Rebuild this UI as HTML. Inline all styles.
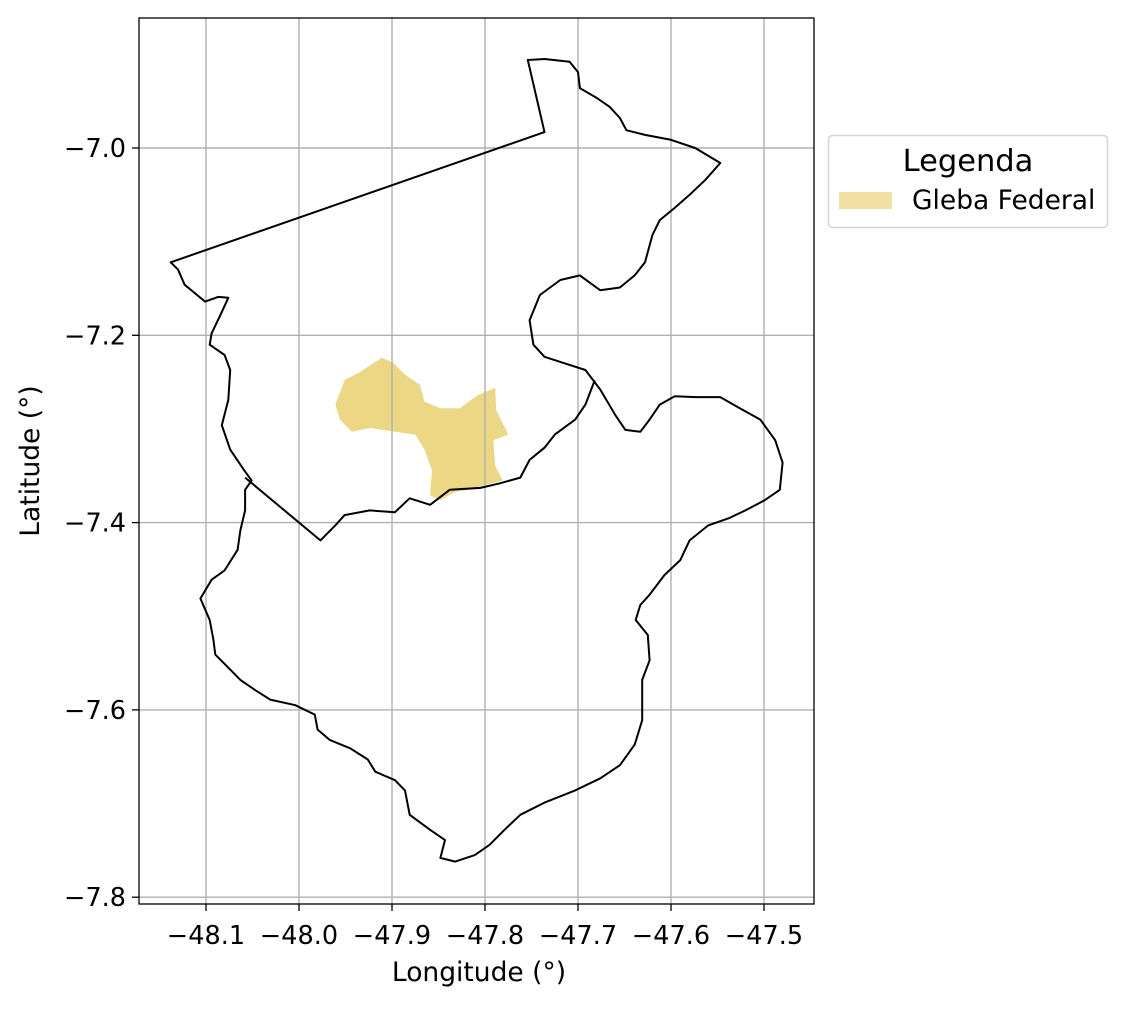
<!DOCTYPE html>
<html><head><meta charset="utf-8"><style>
body{margin:0;background:#fff}
svg text{font-family:"DejaVu Sans","Liberation Sans",sans-serif;fill:#000}
</style></head><body>
<svg width="1127" height="1006" viewBox="0 0 1127 1006" xmlns="http://www.w3.org/2000/svg">
<rect x="0" y="0" width="1127" height="1006" fill="#fff"/>
<g id="fills"></g>
<g id="grid"></g>
<g id="lines"></g>
<g id="axes"></g>
<g>
<rect x="828.5" y="135.5" width="279" height="92" rx="4" fill="#fff" stroke="#d5d5d5" stroke-width="1.5"/>
<text x="968" y="171" font-size="30.5" text-anchor="middle">Legenda</text>
<rect x="839" y="192" width="53" height="17" fill="#f1e0a1"/>
<text x="912" y="209" font-size="26.5">Gleba Federal</text>
</g>
</svg>
<script>
const xTicks=[-48.1,-48.0,-47.9,-47.8,-47.7,-47.6,-47.5];
const xTickLabels=["−48.1","−48.0","−47.9","−47.8","−47.7","−47.6","−47.5"];
const yTicks=[-7.0,-7.2,-7.4,-7.6,-7.8];
const yTickLabels=["−7.0","−7.2","−7.4","−7.6","−7.8"];
const outlineLon=[-48.138,-47.736,-47.754,-47.736,-47.709,-47.700,-47.698,-47.679,-47.666,-47.655,-47.648,-47.628,-47.601,-47.574,-47.547,-47.563,-47.580,-47.596,-47.612,-47.620,-47.628,-47.639,-47.655,-47.676,-47.698,-47.719,-47.741,-47.752,-47.748,-47.736,-47.714,-47.692,-47.676,-47.660,-47.649,-47.633,-47.623,-47.612,-47.596,-47.574,-47.547,-47.526,-47.504,-47.488,-47.480,-47.483,-47.499,-47.520,-47.537,-47.560,-47.580,-47.590,-47.607,-47.623,-47.633,-47.638,-47.625,-47.623,-47.631,-47.631,-47.639,-47.655,-47.676,-47.703,-47.736,-47.762,-47.779,-47.795,-47.811,-47.832,-47.848,-47.843,-47.859,-47.881,-47.886,-47.897,-47.918,-47.926,-47.945,-47.967,-47.980,-47.983,-48.004,-48.031,-48.047,-48.063,-48.074,-48.090,-48.092,-48.096,-48.106,-48.094,-48.080,-48.066,-48.063,-48.058,-48.058,-48.051,-48.059,-48.074,-48.083,-48.076,-48.074,-48.080,-48.096,-48.094,-48.083,-48.076,-48.087,-48.101,-48.123,-48.130];
const outlineLat=[-7.122,-6.983,-6.906,-6.905,-6.908,-6.919,-6.936,-6.947,-6.956,-6.968,-6.981,-6.986,-6.991,-7.000,-7.016,-7.034,-7.050,-7.064,-7.077,-7.093,-7.122,-7.136,-7.149,-7.152,-7.136,-7.141,-7.157,-7.184,-7.210,-7.223,-7.230,-7.237,-7.258,-7.285,-7.301,-7.303,-7.290,-7.274,-7.265,-7.266,-7.266,-7.278,-7.290,-7.312,-7.336,-7.365,-7.376,-7.387,-7.395,-7.403,-7.419,-7.440,-7.456,-7.477,-7.488,-7.504,-7.520,-7.547,-7.568,-7.611,-7.637,-7.659,-7.673,-7.686,-7.699,-7.712,-7.728,-7.744,-7.755,-7.762,-7.758,-7.739,-7.728,-7.712,-7.686,-7.675,-7.666,-7.653,-7.641,-7.632,-7.621,-7.605,-7.595,-7.589,-7.579,-7.568,-7.557,-7.541,-7.525,-7.504,-7.481,-7.461,-7.451,-7.429,-7.408,-7.387,-7.365,-7.355,-7.344,-7.322,-7.296,-7.269,-7.237,-7.221,-7.210,-7.198,-7.175,-7.160,-7.159,-7.164,-7.146,-7.130];
const innerLon=[-48.058,-47.977,-47.961,-47.951,-47.924,-47.897,-47.881,-47.859,-47.838,-47.805,-47.784,-47.762,-47.752,-47.736,-47.725,-47.703,-47.692,-47.682];
const innerLat=[-7.352,-7.419,-7.403,-7.392,-7.387,-7.389,-7.374,-7.381,-7.365,-7.363,-7.358,-7.352,-7.333,-7.320,-7.306,-7.290,-7.274,-7.248];
const glebaLon=[-47.961,-47.951,-47.934,-47.911,-47.899,-47.886,-47.870,-47.865,-47.848,-47.827,-47.808,-47.789,-47.788,-47.775,-47.791,-47.789,-47.781,-47.800,-47.816,-47.832,-47.848,-47.859,-47.857,-47.865,-47.875,-47.897,-47.924,-47.943,-47.956];
const glebaLat=[-7.274,-7.248,-7.239,-7.224,-7.229,-7.242,-7.253,-7.271,-7.278,-7.278,-7.264,-7.256,-7.280,-7.306,-7.312,-7.339,-7.355,-7.360,-7.365,-7.367,-7.376,-7.371,-7.344,-7.322,-7.306,-7.303,-7.299,-7.303,-7.290];

const L=139,R=814,T=18,B=904;
function sx(lon){return 206+(lon+48.1)*930;}
function sy(lat){return 148+(-7.0-lat)*936.5;}
const NS="http://www.w3.org/2000/svg";
function mk(tag,parent,attrs){const e=document.createElementNS(NS,tag);for(const k in attrs)e.setAttribute(k,attrs[k]);parent.appendChild(e);return e;}
function pts(lons,lats){return lons.map((v,i)=>sx(v).toFixed(1)+","+sy(lats[i]).toFixed(1)).join(" ");}

const gF=document.getElementById('fills'),gG=document.getElementById('grid'),gL=document.getElementById('lines'),gA=document.getElementById('axes');
const gleba=mk('polygon',gF,{points:pts(glebaLon,glebaLat),fill:'#ecd785'});



xTicks.forEach((v,i)=>{
 const x=sx(v);
 const g=mk('line',gG,{x1:x,x2:x,y1:T,y2:B,stroke:'#b0b0b0','stroke-width':1.4});
 
 
 mk('line',gA,{x1:x,x2:x,y1:B,y2:B+7,stroke:'#000','stroke-width':1.3});
 const t=mk('text',gA,{x:x,y:944,'font-size':25.5,'text-anchor':'middle'});
 t.textContent=xTickLabels[i];
 
 
});
yTicks.forEach((v,i)=>{
 const y=sy(v);
 const g=mk('line',gG,{x1:L,x2:R,y1:y,y2:y,stroke:'#b0b0b0','stroke-width':1.4});
 
 
 mk('line',gA,{x1:L-7,x2:L,y1:y,y2:y,stroke:'#000','stroke-width':1.3});
 const t=mk('text',gA,{x:L-13,y:y+9,'font-size':25.5,'text-anchor':'end'});
 t.textContent=yTickLabels[i];
 
 
});

const ol=mk('polygon',gL,{points:pts(outlineLon,outlineLat),fill:'none',stroke:'#000','stroke-width':2,'stroke-linejoin':'round'});


const il=mk('polyline',gL,{points:pts(innerLon,innerLat),fill:'none',stroke:'#000','stroke-width':2,'stroke-linejoin':'round'});



const fr=mk('rect',gA,{x:L,y:T,width:R-L,height:B-T,fill:'none',stroke:'#000','stroke-width':1.3});


const xl=mk('text',gA,{x:479,y:981,'font-size':26.5,'text-anchor':'middle'});
xl.textContent='Longitude (°)';


const yl=mk('text',gA,{x:0,y:0,'font-size':26.5,'text-anchor':'middle',transform:'translate(39,461) rotate(-90)'});
yl.textContent='Latitude (°)';


</script>
</body></html>
